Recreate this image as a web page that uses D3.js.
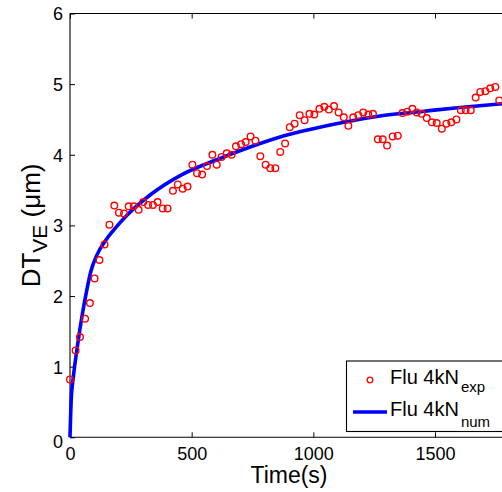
<!DOCTYPE html>
<html>
<head>
<meta charset="utf-8">
<script src="https://cdn.jsdelivr.net/npm/d3@7"></script>
<style>
  html, body { margin: 0; padding: 0; background: #fff; }
  svg { display: block; font-family: "Liberation Sans", Arial, Helvetica, sans-serif; }
</style>
</head>
<body>
<svg id="chart" width="502" height="492"></svg>
<script>
// ---- data ----
const expTime = [0,23,41,62,82,101,121,142,162,182,201,222,241,262,282,301,321,341,360,381,401,423,443,463,483,503,522,543,563,585,603,623,644,664,682,703,722,742,762,782,804,823,844,864,884,903,923,944,964,984,1004,1025,1045,1064,1085,1104,1125,1144,1164,1185,1205,1226,1245,1265,1285,1303,1326,1347,1366,1386,1407,1425,1445,1466,1487,1507,1528,1547,1567,1588,1606,1626,1647,1667,1686,1707,1727,1748,1764];
const expDT = [0.82,1.23,1.42,1.68,1.90,2.25,2.51,2.73,3.01,3.28,3.18,3.17,3.27,3.27,3.22,3.33,3.29,3.29,3.33,3.24,3.24,3.49,3.58,3.52,3.55,3.86,3.74,3.72,3.84,4.00,3.86,3.97,4.02,4.00,4.12,4.15,4.18,4.26,4.20,3.98,3.86,3.81,3.81,4.04,4.16,4.39,4.44,4.56,4.49,4.58,4.57,4.65,4.68,4.64,4.69,4.60,4.53,4.41,4.53,4.56,4.60,4.57,4.58,4.22,4.22,4.13,4.26,4.27,4.59,4.61,4.65,4.60,4.58,4.52,4.46,4.45,4.37,4.44,4.46,4.50,4.63,4.63,4.63,4.81,4.89,4.90,4.94,4.96,4.77];

const numTime = [0,5,14,30,51,66,85,112,147,181,233,329,466,603,740,880,1000,1110,1274,1438,1603,1800];
const numDT   = [0,0.53,0.86,1.28,1.75,2.03,2.34,2.59,2.79,2.94,3.14,3.43,3.73,3.93,4.11,4.27,4.37,4.45,4.55,4.61,4.67,4.73];

const xTicks = [0,500,1000,1500];
const yTicks = [0,1,2,3,4,5,6];
const legendLabels = [{main:"Flu 4kN", sub:"exp"}, {main:"Flu 4kN", sub:"num"}];
const xLabel = "Time(s)";
const yLabelMain = "DT", yLabelSub = "VE", yLabelUnit = " (μm)";

// ---- layout ----
const svg = d3.select("#chart");
const L = 70, R = 508, T = 13.5, B = 437.3;
const x = d3.scaleLinear().domain([0,1800]).range([L,R]);
const y = d3.scaleLinear().domain([0,6]).range([B,T]);

// frame
const frame = svg.append("g").attr("stroke","#000").attr("stroke-width",1.1).attr("fill","none");
frame.append("line").attr("x1",L).attr("x2",R).attr("y1",T).attr("y2",T);
frame.append("line").attr("x1",L).attr("x2",R).attr("y1",B).attr("y2",B);
frame.append("line").attr("x1",L).attr("x2",L).attr("y1",T).attr("y2",B);
frame.append("line").attr("x1",R).attr("x2",R).attr("y1",T).attr("y2",B);

// axes (ticks inward, MATLAB style)
const tl = 5;
const xAxis = svg.append("g").attr("transform",`translate(0,${B})`)
  .call(d3.axisBottom(x).tickValues(xTicks).tickSize(-tl).tickPadding(10).tickFormat(d3.format("d")));
const xAxisTop = svg.append("g").attr("transform",`translate(0,${T})`)
  .call(d3.axisTop(x).tickValues(xTicks).tickSize(-tl).tickFormat(""));
const yAxis = svg.append("g").attr("transform",`translate(${L},0)`)
  .call(d3.axisLeft(y).tickValues(yTicks).tickSize(-tl).tickPadding(7).tickFormat(d3.format("d")));
[xAxis, xAxisTop, yAxis].forEach(g => {
  g.select(".domain").remove();
  g.selectAll(".tick line").attr("stroke","#000").attr("stroke-width",1);
  g.selectAll(".tick text").attr("fill","#000").attr("font-size",18)
    .attr("font-family",'"Liberation Sans", Arial, sans-serif');
});
xAxis.selectAll(".tick text").attr("dy","0.7em");
yAxis.selectAll(".tick text").attr("dy","0.36em");
yAxis.selectAll(".tick").filter(d => d === 0).select("text").attr("dy","0.55em");

// numerical curve
const line = d3.line().x((d,i)=>x(numTime[i])).y((d,i)=>y(numDT[i])).curve(d3.curveMonotoneX);
svg.append("path").datum(numDT).attr("d",line)
  .attr("fill","none").attr("stroke","#0000ff").attr("stroke-width",3.6).attr("stroke-linejoin","round");

// experimental markers
svg.append("g").selectAll("circle").data(expDT).join("circle")
  .attr("cx",(d,i)=>x(expTime[i])).attr("cy",d=>y(d)).attr("r",3.3)
  .attr("fill","none").attr("stroke","#ff0000").attr("stroke-width",1.4);

// axis labels
svg.append("text").attr("x",(L+R)/2).attr("y",483).attr("text-anchor","middle")
  .attr("font-size",23).attr("fill","#000").text(xLabel);

const yl = svg.append("text").attr("transform",`translate(40,${(T+B)/2}) rotate(-90)`)
  .attr("text-anchor","middle").attr("font-size",26).attr("fill","#000");
yl.append("tspan").text(yLabelMain);
yl.append("tspan").attr("font-size",21).attr("dy",7).text(yLabelSub);
yl.append("tspan").attr("dy",-7).text(yLabelUnit);

// legend
const lg = svg.append("g");
lg.append("rect").attr("x",346.5).attr("y",361).attr("width",170).attr("height",70.5)
  .attr("fill","#fff").attr("stroke","#000").attr("stroke-width",1.1);
lg.append("circle").attr("cx",370).attr("cy",380).attr("r",2.8)
  .attr("fill","none").attr("stroke","#ff0000").attr("stroke-width",1.3);
lg.append("line").attr("x1",353).attr("x2",387).attr("y1",412).attr("y2",412)
  .attr("stroke","#0000ff").attr("stroke-width",3.6);
const rowsY = [383.5, 415.5];
legendLabels.forEach((lab,i) => {
  const t = lg.append("text").attr("x",390).attr("y",rowsY[i]).attr("font-size",20).attr("fill","#000");
  t.append("tspan").text(lab.main);
  t.append("tspan").attr("font-size",15).attr("dy",i===0?8.5:11).attr("dx",2).text(lab.sub);
});
</script>
</body>
</html>
